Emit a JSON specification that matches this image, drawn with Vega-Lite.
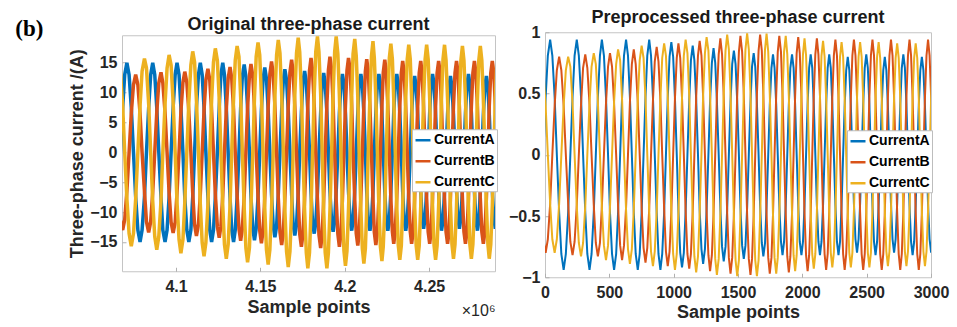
{
"$schema": "https://vega.github.io/schema/vega-lite/v6.json",
"padding": {"left": 15, "top": 8, "right": 5, "bottom": 2},
"title": {"text": "(b)", "anchor": "start", "frame": "bounds", "orient": "top", "offset": -32, "dx": -53, "font": "Liberation Serif", "fontSize": 23, "fontWeight": "bold", "color": "#000000"},
"config": {
  "font": "Liberation Sans",
  "view": {"stroke": "#c4c4c4", "strokeWidth": 1},
  "axis": {"grid": false, "domain": false, "labelFlush": false, "tickColor": "#b0b0b0", "tickSize": -4, "labelFontSize": 16, "labelFontWeight": "bold", "labelColor": "#262626", "titleFontSize": 18, "titleFontWeight": "bold", "titleColor": "#262626"},
  "title": {"fontSize": 18, "fontWeight": "bold", "color": "#1a1a1a"},
  "legend": {"symbolType": "stroke", "symbolStrokeWidth": 2.5, "symbolSize": 225, "labelFontSize": 14, "labelFontWeight": "bold", "labelColor": "#000000", "fillColor": "#ffffff", "strokeColor": "#bdbdbd", "padding": 2, "rowPadding": 5, "labelOffset": 2}
},
"datasets": {
"orig": [
{"t":4.067,"A":0,"B":-11.3,"C":13.6},{"t":4.0684,"A":7.5,"B":-13,"C":7.8},{"t":4.0696,"A":13,"B":-11.3,"C":0},{"t":4.0709,"A":15,"B":-6.5,"C":-7.8},{"t":4.0722,"A":13,"B":0,"C":-13.6},{"t":4.0735,"A":7.5,"B":6.5,"C":-15.7},{"t":4.0748,"A":0,"B":11.3,"C":-13.6},{"t":4.0761,"A":-7.5,"B":13,"C":-7.8},{"t":4.0774,"A":-13,"B":11.3,"C":0},{"t":4.0787,"A":-15,"B":6.5,"C":7.8},{"t":4.0799,"A":-13,"B":0,"C":13.6},{"t":4.0813,"A":-7.5,"B":-6.5,"C":15.7},
{"t":4.0825,"A":0,"B":-11.6,"C":14.1},{"t":4.0838,"A":7.5,"B":-13.4,"C":8.1},{"t":4.085,"A":13,"B":-11.6,"C":0},{"t":4.0862,"A":15,"B":-6.7,"C":-8.1},{"t":4.0874,"A":13,"B":0,"C":-14.1},{"t":4.0886,"A":7.5,"B":6.7,"C":-16.3},{"t":4.0898,"A":0,"B":11.6,"C":-14.1},{"t":4.0911,"A":-7.5,"B":13.4,"C":-8.1},{"t":4.0922,"A":-13,"B":11.6,"C":0},{"t":4.0935,"A":-15,"B":6.7,"C":8.1},{"t":4.0947,"A":-13,"B":0,"C":14.1},{"t":4.0959,"A":-7.5,"B":-6.7,"C":16.3},
{"t":4.0971,"A":0,"B":-11.7,"C":14.6},{"t":4.0983,"A":7.5,"B":-13.5,"C":8.4},{"t":4.0995,"A":13,"B":-11.7,"C":0},{"t":4.1006,"A":15,"B":-6.8,"C":-8.4},{"t":4.1018,"A":13,"B":0,"C":-14.6},{"t":4.1029,"A":7.5,"B":6.8,"C":-16.9},{"t":4.1041,"A":0,"B":11.7,"C":-14.6},{"t":4.1052,"A":-7.5,"B":13.5,"C":-8.4},{"t":4.1064,"A":-13,"B":11.7,"C":0},{"t":4.1076,"A":-15,"B":6.8,"C":8.4},{"t":4.1088,"A":-13,"B":0,"C":14.6},{"t":4.1099,"A":-7.5,"B":-6.8,"C":16.9},
{"t":4.111,"A":0,"B":-12.1,"C":15.1},{"t":4.1121,"A":7.5,"B":-14,"C":8.7},{"t":4.1133,"A":13,"B":-12.1,"C":0},{"t":4.1144,"A":15,"B":-7,"C":-8.7},{"t":4.1155,"A":13,"B":0,"C":-15.1},{"t":4.1166,"A":7.5,"B":7,"C":-17.4},{"t":4.1177,"A":0,"B":12.1,"C":-15.1},{"t":4.1189,"A":-7.5,"B":14,"C":-8.7},{"t":4.12,"A":-13,"B":12.1,"C":0},{"t":4.1211,"A":-15,"B":7,"C":8.7},{"t":4.1222,"A":-13,"B":0,"C":15.1},{"t":4.1233,"A":-7.5,"B":-7,"C":17.4},
{"t":4.1245,"A":0,"B":-12.4,"C":15.4},{"t":4.1256,"A":7.5,"B":-14.3,"C":8.9},{"t":4.1266,"A":13,"B":-12.4,"C":0},{"t":4.1277,"A":15,"B":-7.2,"C":-8.9},{"t":4.1287,"A":13,"B":0,"C":-15.4},{"t":4.1298,"A":7.5,"B":7.2,"C":-17.8},{"t":4.1309,"A":0,"B":12.4,"C":-15.4},{"t":4.132,"A":-7.5,"B":14.3,"C":-8.9},{"t":4.133,"A":-13,"B":12.4,"C":0},{"t":4.1341,"A":-15,"B":7.2,"C":8.9},{"t":4.1351,"A":-13,"B":0,"C":15.4},{"t":4.1362,"A":-7.5,"B":-7.2,"C":17.8},
{"t":4.1373,"A":0,"B":-12.8,"C":16},{"t":4.1383,"A":7.4,"B":-14.8,"C":9.2},{"t":4.1393,"A":12.7,"B":-12.8,"C":0},{"t":4.1404,"A":14.7,"B":-7.4,"C":-9.2},{"t":4.1414,"A":12.7,"B":0,"C":-16},{"t":4.1424,"A":7.4,"B":7.4,"C":-18.4},{"t":4.1435,"A":0,"B":12.8,"C":-16},{"t":4.1444,"A":-7.4,"B":14.8,"C":-9.2},{"t":4.1455,"A":-12.7,"B":12.8,"C":0},{"t":4.1465,"A":-14.7,"B":7.4,"C":9.2},{"t":4.1475,"A":-12.7,"B":0,"C":16},{"t":4.1486,"A":-7.4,"B":-7.4,"C":18.4},
{"t":4.1496,"A":0,"B":-13.1,"C":16.3},{"t":4.1506,"A":7.1,"B":-15.2,"C":9.4},{"t":4.1516,"A":12.3,"B":-13.1,"C":0},{"t":4.1526,"A":14.2,"B":-7.6,"C":-9.4},{"t":4.1536,"A":12.3,"B":0,"C":-16.3},{"t":4.1546,"A":7.1,"B":7.6,"C":-18.8},{"t":4.1556,"A":0,"B":13.1,"C":-16.3},{"t":4.1566,"A":-7.1,"B":15.2,"C":-9.4},{"t":4.1576,"A":-12.3,"B":13.1,"C":0},{"t":4.1586,"A":-14.2,"B":7.6,"C":9.4},{"t":4.1596,"A":-12.3,"B":0,"C":16.3},{"t":4.1606,"A":-7.1,"B":-7.6,"C":18.8},
{"t":4.1616,"A":0,"B":-13.4,"C":16.6},{"t":4.1626,"A":7,"B":-15.5,"C":9.6},{"t":4.1636,"A":12.1,"B":-13.4,"C":0},{"t":4.1645,"A":13.9,"B":-7.7,"C":-9.6},{"t":4.1655,"A":12.1,"B":0,"C":-16.6},{"t":4.1665,"A":7,"B":7.7,"C":-19.2},{"t":4.1675,"A":0,"B":13.4,"C":-16.6},{"t":4.1685,"A":-7,"B":15.5,"C":-9.6},{"t":4.1694,"A":-12.1,"B":13.4,"C":0},{"t":4.1704,"A":-13.9,"B":7.7,"C":9.6},{"t":4.1714,"A":-12.1,"B":0,"C":16.6},{"t":4.1724,"A":-7,"B":-7.7,"C":19.2},
{"t":4.1733,"A":0,"B":-13.7,"C":16.8},{"t":4.1743,"A":6.8,"B":-15.8,"C":9.7},{"t":4.1752,"A":11.8,"B":-13.7,"C":0},{"t":4.1762,"A":13.6,"B":-7.9,"C":-9.7},{"t":4.1772,"A":11.8,"B":0,"C":-16.8},{"t":4.1781,"A":6.8,"B":7.9,"C":-19.4},{"t":4.1791,"A":0,"B":13.7,"C":-16.8},{"t":4.18,"A":-6.8,"B":15.8,"C":-9.7},{"t":4.1809,"A":-11.8,"B":13.7,"C":0},{"t":4.1819,"A":-13.6,"B":7.9,"C":9.7},{"t":4.1828,"A":-11.8,"B":0,"C":16.8},{"t":4.1838,"A":-6.8,"B":-7.9,"C":19.4},
{"t":4.1847,"A":0,"B":-13.8,"C":16.8},{"t":4.1857,"A":6.6,"B":-16,"C":9.7},{"t":4.1866,"A":11.5,"B":-13.8,"C":0},{"t":4.1875,"A":13.3,"B":-8,"C":-9.7},{"t":4.1884,"A":11.5,"B":0,"C":-16.8},{"t":4.1894,"A":6.6,"B":8,"C":-19.4},{"t":4.1903,"A":0,"B":13.8,"C":-16.8},{"t":4.1912,"A":-6.6,"B":16,"C":-9.7},{"t":4.1922,"A":-11.5,"B":13.8,"C":0},{"t":4.1931,"A":-13.3,"B":8,"C":9.7},{"t":4.194,"A":-11.5,"B":0,"C":16.8},{"t":4.1949,"A":-6.6,"B":-8,"C":19.4},
{"t":4.1959,"A":0,"B":-13.7,"C":16.5},{"t":4.1968,"A":6.6,"B":-15.8,"C":9.5},{"t":4.1977,"A":11.4,"B":-13.7,"C":0},{"t":4.1986,"A":13.1,"B":-7.9,"C":-9.5},{"t":4.1995,"A":11.4,"B":0,"C":-16.5},{"t":4.2004,"A":6.6,"B":7.9,"C":-19},{"t":4.2013,"A":0,"B":13.7,"C":-16.5},{"t":4.2022,"A":-6.6,"B":15.8,"C":-9.5},{"t":4.2032,"A":-11.4,"B":13.7,"C":0},{"t":4.2041,"A":-13.1,"B":7.9,"C":9.5},{"t":4.2049,"A":-11.4,"B":0,"C":16.5},{"t":4.2059,"A":-6.6,"B":-7.9,"C":19},
{"t":4.2068,"A":0,"B":-13.6,"C":16.1},{"t":4.2077,"A":6.6,"B":-15.6,"C":9.3},{"t":4.2085,"A":11.4,"B":-13.6,"C":0},{"t":4.2095,"A":13.1,"B":-7.8,"C":-9.3},{"t":4.2104,"A":11.4,"B":0,"C":-16.1},{"t":4.2113,"A":6.6,"B":7.8,"C":-18.6},{"t":4.2122,"A":0,"B":13.6,"C":-16.1},{"t":4.213,"A":-6.6,"B":15.6,"C":-9.3},{"t":4.2139,"A":-11.4,"B":13.6,"C":0},{"t":4.2149,"A":-13.1,"B":7.8,"C":9.3},{"t":4.2158,"A":-11.4,"B":0,"C":16.1},{"t":4.2167,"A":-6.6,"B":-7.8,"C":18.6},
{"t":4.2175,"A":0,"B":-13.4,"C":15.8},{"t":4.2184,"A":6.6,"B":-15.5,"C":9.1},{"t":4.2193,"A":11.4,"B":-13.4,"C":0},{"t":4.2202,"A":13.1,"B":-7.7,"C":-9.1},{"t":4.2211,"A":11.4,"B":0,"C":-15.8},{"t":4.222,"A":6.6,"B":7.7,"C":-18.2},{"t":4.2228,"A":0,"B":13.4,"C":-15.8},{"t":4.2237,"A":-6.6,"B":15.5,"C":-9.1},{"t":4.2246,"A":-11.4,"B":13.4,"C":0},{"t":4.2255,"A":-13.1,"B":7.7,"C":9.1},{"t":4.2264,"A":-11.4,"B":0,"C":15.8},{"t":4.2273,"A":-6.6,"B":-7.7,"C":18.2},
{"t":4.2282,"A":0,"B":-13.3,"C":15.6},{"t":4.229,"A":6.6,"B":-15.3,"C":9},{"t":4.2299,"A":11.4,"B":-13.3,"C":0},{"t":4.2308,"A":13.1,"B":-7.7,"C":-9},{"t":4.2317,"A":11.4,"B":0,"C":-15.6},{"t":4.2326,"A":6.6,"B":7.7,"C":-18},{"t":4.2335,"A":0,"B":13.3,"C":-15.6},{"t":4.2343,"A":-6.6,"B":15.3,"C":-9},{"t":4.2352,"A":-11.4,"B":13.3,"C":0},{"t":4.2361,"A":-13.1,"B":7.7,"C":9},{"t":4.237,"A":-11.4,"B":0,"C":15.6},{"t":4.2379,"A":-6.6,"B":-7.7,"C":18},
{"t":4.2388,"A":0,"B":-13.3,"C":15.6},{"t":4.2396,"A":6.4,"B":-15.3,"C":9},{"t":4.2405,"A":11,"B":-13.3,"C":0},{"t":4.2414,"A":12.8,"B":-7.7,"C":-9},{"t":4.2423,"A":11,"B":0,"C":-15.6},{"t":4.2432,"A":6.4,"B":7.7,"C":-18},{"t":4.2441,"A":0,"B":13.3,"C":-15.6},{"t":4.245,"A":-6.4,"B":15.3,"C":-9},{"t":4.2458,"A":-11,"B":13.3,"C":0},{"t":4.2467,"A":-12.8,"B":7.7,"C":9},{"t":4.2476,"A":-11,"B":0,"C":15.6},{"t":4.2485,"A":-6.4,"B":-7.7,"C":18},
{"t":4.2494,"A":0,"B":-13.3,"C":15.6},{"t":4.2503,"A":6.6,"B":-15.3,"C":9},{"t":4.2511,"A":11.4,"B":-13.3,"C":0},{"t":4.252,"A":13.1,"B":-7.7,"C":-9},{"t":4.2529,"A":11.4,"B":0,"C":-15.6},{"t":4.2538,"A":6.6,"B":7.7,"C":-18},{"t":4.2547,"A":0,"B":13.3,"C":-15.6},{"t":4.2556,"A":-6.6,"B":15.3,"C":-9},{"t":4.2565,"A":-11.4,"B":13.3,"C":0},{"t":4.2573,"A":-13.1,"B":7.7,"C":9},{"t":4.2582,"A":-11.4,"B":0,"C":15.6},{"t":4.2591,"A":-6.6,"B":-7.7,"C":18},
{"t":4.26,"A":0,"B":-13.3,"C":15.4},{"t":4.2609,"A":6.4,"B":-15.3,"C":8.9},{"t":4.2618,"A":11,"B":-13.3,"C":0},{"t":4.2626,"A":12.8,"B":-7.7,"C":-8.9},{"t":4.2635,"A":11,"B":0,"C":-15.4},{"t":4.2644,"A":6.4,"B":7.7,"C":-17.8},{"t":4.2653,"A":0,"B":13.3,"C":-15.4},{"t":4.2662,"A":-6.4,"B":15.3,"C":-8.9},{"t":4.2671,"A":-11,"B":13.3,"C":0},{"t":4.2679,"A":-12.8,"B":7.7,"C":8.9},{"t":4.2688,"A":-11,"B":0,"C":15.4},{"t":4.2697,"A":-6.4,"B":-7.7,"C":17.8},
{"t":4.2706,"A":0,"B":-13.3,"C":15.4},{"t":4.2715,"A":6.6,"B":-15.3,"C":8.9},{"t":4.2724,"A":11.4,"B":-13.3,"C":0},{"t":4.2733,"A":13.1,"B":-7.7,"C":-8.9},{"t":4.2741,"A":11.4,"B":0,"C":-15.4},{"t":4.275,"A":6.6,"B":7.7,"C":-17.8},{"t":4.2759,"A":0,"B":13.3,"C":-15.4},{"t":4.2768,"A":-6.6,"B":15.3,"C":-8.9},{"t":4.2777,"A":-11.4,"B":13.3,"C":0},{"t":4.2786,"A":-13.1,"B":7.7,"C":8.9},{"t":4.2794,"A":-11.4,"B":0,"C":15.4},{"t":4.2803,"A":-6.6,"B":-7.7,"C":17.8},
{"t":4.2812,"A":0,"B":-13.3,"C":15.4},{"t":4.2821,"A":6.4,"B":-15.3,"C":8.9},{"t":4.283,"A":11,"B":-13.3,"C":0},{"t":4.2839,"A":12.8,"B":-7.7,"C":-8.9},{"t":4.2848,"A":11,"B":0,"C":-15.4},{"t":4.2856,"A":6.4,"B":7.7,"C":-17.8},{"t":4.2865,"A":0,"B":13.3,"C":-15.4},{"t":4.2874,"A":-6.4,"B":15.3,"C":-8.9},{"t":4.2883,"A":-11,"B":13.3,"C":0},{"t":4.2892,"A":-12.8,"B":7.7,"C":8.9},{"t":4.2901,"A":-11,"B":0,"C":15.4}
],
"prep": [
{"n":-13,"A":0,"B":-0.69,"C":0.69},{"n":5,"A":0.47,"B":-0.8,"C":0.4},{"n":22,"A":0.81,"B":-0.69,"C":0},{"n":40,"A":0.94,"B":-0.4,"C":-0.4},{"n":57,"A":0.81,"B":0,"C":-0.69},{"n":75,"A":0.47,"B":0.4,"C":-0.8},{"n":92,"A":0,"B":0.69,"C":-0.69},{"n":110,"A":-0.47,"B":0.8,"C":-0.4},{"n":127,"A":-0.81,"B":0.69,"C":0},{"n":145,"A":-0.94,"B":0.4,"C":0.4},{"n":162,"A":-0.81,"B":0,"C":0.69},{"n":180,"A":-0.47,"B":-0.4,"C":0.8},
{"n":197,"A":0,"B":-0.71,"C":0.72},{"n":214,"A":0.47,"B":-0.82,"C":0.42},{"n":230,"A":0.81,"B":-0.71,"C":0},{"n":247,"A":0.94,"B":-0.41,"C":-0.42},{"n":263,"A":0.81,"B":0,"C":-0.72},{"n":280,"A":0.47,"B":0.41,"C":-0.83},{"n":296,"A":0,"B":0.71,"C":-0.72},{"n":313,"A":-0.47,"B":0.82,"C":-0.42},{"n":329,"A":-0.81,"B":0.71,"C":0},{"n":346,"A":-0.94,"B":0.41,"C":0.42},{"n":362,"A":-0.81,"B":0,"C":0.72},{"n":379,"A":-0.47,"B":-0.41,"C":0.83},
{"n":395,"A":0,"B":-0.72,"C":0.74},{"n":411,"A":0.47,"B":-0.83,"C":0.43},{"n":427,"A":0.81,"B":-0.72,"C":0},{"n":442,"A":0.94,"B":-0.42,"C":-0.43},{"n":458,"A":0.81,"B":0,"C":-0.74},{"n":474,"A":0.47,"B":0.42,"C":-0.86},{"n":490,"A":0,"B":0.72,"C":-0.74},{"n":505,"A":-0.47,"B":0.83,"C":-0.43},{"n":521,"A":-0.81,"B":0.72,"C":0},{"n":537,"A":-0.94,"B":0.42,"C":0.43},{"n":553,"A":-0.81,"B":0,"C":0.74},{"n":568,"A":-0.47,"B":-0.42,"C":0.86},
{"n":584,"A":0,"B":-0.74,"C":0.77},{"n":599,"A":0.47,"B":-0.86,"C":0.45},{"n":614,"A":0.81,"B":-0.74,"C":0},{"n":630,"A":0.94,"B":-0.43,"C":-0.45},{"n":645,"A":0.81,"B":0,"C":-0.77},{"n":660,"A":0.47,"B":0.43,"C":-0.89},{"n":675,"A":0,"B":0.74,"C":-0.77},{"n":690,"A":-0.47,"B":0.86,"C":-0.45},{"n":705,"A":-0.81,"B":0.74,"C":0},{"n":721,"A":-0.94,"B":0.43,"C":0.45},{"n":736,"A":-0.81,"B":0,"C":0.77},{"n":751,"A":-0.47,"B":-0.43,"C":0.89},
{"n":766,"A":0,"B":-0.76,"C":0.79},{"n":781,"A":0.47,"B":-0.88,"C":0.46},{"n":795,"A":0.81,"B":-0.76,"C":0},{"n":810,"A":0.94,"B":-0.44,"C":-0.46},{"n":824,"A":0.81,"B":0,"C":-0.79},{"n":839,"A":0.47,"B":0.44,"C":-0.91},{"n":853,"A":0,"B":0.76,"C":-0.79},{"n":868,"A":-0.47,"B":0.88,"C":-0.46},{"n":882,"A":-0.81,"B":0.76,"C":0},{"n":897,"A":-0.94,"B":0.44,"C":0.46},{"n":911,"A":-0.81,"B":0,"C":0.79},{"n":926,"A":-0.47,"B":-0.44,"C":0.91},
{"n":940,"A":0,"B":-0.79,"C":0.81},{"n":954,"A":0.46,"B":-0.91,"C":0.47},{"n":968,"A":0.8,"B":-0.79,"C":0},{"n":982,"A":0.92,"B":-0.46,"C":-0.47},{"n":996,"A":0.8,"B":0,"C":-0.81},{"n":1010,"A":0.46,"B":0.46,"C":-0.94},{"n":1024,"A":0,"B":0.79,"C":-0.81},{"n":1037,"A":-0.46,"B":0.91,"C":-0.47},{"n":1051,"A":-0.8,"B":0.79,"C":0},{"n":1065,"A":-0.92,"B":0.46,"C":0.47},{"n":1079,"A":-0.8,"B":0,"C":0.81},{"n":1093,"A":-0.46,"B":-0.46,"C":0.94},
{"n":1107,"A":0,"B":-0.81,"C":0.83},{"n":1121,"A":0.45,"B":-0.93,"C":0.48},{"n":1134,"A":0.77,"B":-0.81,"C":0},{"n":1148,"A":0.89,"B":-0.47,"C":-0.48},{"n":1161,"A":0.77,"B":0,"C":-0.83},{"n":1175,"A":0.45,"B":0.47,"C":-0.96},{"n":1189,"A":0,"B":0.81,"C":-0.83},{"n":1202,"A":-0.45,"B":0.93,"C":-0.48},{"n":1216,"A":-0.77,"B":0.81,"C":0},{"n":1229,"A":-0.89,"B":0.47,"C":0.48},{"n":1243,"A":-0.77,"B":0,"C":0.83},{"n":1256,"A":-0.45,"B":-0.47,"C":0.96},
{"n":1270,"A":0,"B":-0.82,"C":0.85},{"n":1283,"A":0.44,"B":-0.95,"C":0.49},{"n":1297,"A":0.75,"B":-0.82,"C":0},{"n":1310,"A":0.87,"B":-0.48,"C":-0.49},{"n":1323,"A":0.75,"B":0,"C":-0.85},{"n":1336,"A":0.44,"B":0.48,"C":-0.98},{"n":1350,"A":0,"B":0.82,"C":-0.85},{"n":1363,"A":-0.44,"B":0.95,"C":-0.49},{"n":1376,"A":-0.75,"B":0.82,"C":0},{"n":1389,"A":-0.87,"B":0.48,"C":0.49},{"n":1403,"A":-0.75,"B":0,"C":0.85},{"n":1416,"A":-0.44,"B":-0.48,"C":0.98},
{"n":1429,"A":0,"B":-0.84,"C":0.86},{"n":1442,"A":0.43,"B":-0.97,"C":0.5},{"n":1455,"A":0.74,"B":-0.84,"C":0},{"n":1468,"A":0.85,"B":-0.49,"C":-0.5},{"n":1481,"A":0.74,"B":0,"C":-0.86},{"n":1494,"A":0.43,"B":0.49,"C":-0.99},{"n":1507,"A":0,"B":0.84,"C":-0.86},{"n":1519,"A":-0.43,"B":0.97,"C":-0.5},{"n":1532,"A":-0.74,"B":0.84,"C":0},{"n":1545,"A":-0.85,"B":0.49,"C":0.5},{"n":1558,"A":-0.74,"B":0,"C":0.86},{"n":1571,"A":-0.43,"B":-0.49,"C":0.99},
{"n":1584,"A":0,"B":-0.85,"C":0.86},{"n":1597,"A":0.42,"B":-0.98,"C":0.5},{"n":1609,"A":0.72,"B":-0.85,"C":0},{"n":1622,"A":0.83,"B":-0.49,"C":-0.5},{"n":1634,"A":0.72,"B":0,"C":-0.86},{"n":1647,"A":0.42,"B":0.49,"C":-0.99},{"n":1660,"A":0,"B":0.85,"C":-0.86},{"n":1672,"A":-0.42,"B":0.98,"C":-0.5},{"n":1685,"A":-0.72,"B":0.85,"C":0},{"n":1697,"A":-0.83,"B":0.49,"C":0.5},{"n":1710,"A":-0.72,"B":0,"C":0.86},{"n":1722,"A":-0.42,"B":-0.49,"C":0.99},
{"n":1735,"A":0,"B":-0.84,"C":0.84},{"n":1747,"A":0.41,"B":-0.97,"C":0.49},{"n":1760,"A":0.71,"B":-0.84,"C":0},{"n":1772,"A":0.82,"B":-0.49,"C":-0.49},{"n":1784,"A":0.71,"B":0,"C":-0.84},{"n":1797,"A":0.41,"B":0.49,"C":-0.97},{"n":1809,"A":0,"B":0.84,"C":-0.84},{"n":1821,"A":-0.41,"B":0.97,"C":-0.49},{"n":1834,"A":-0.71,"B":0.84,"C":0},{"n":1846,"A":-0.82,"B":0.49,"C":0.49},{"n":1858,"A":-0.71,"B":0,"C":0.84},{"n":1871,"A":-0.41,"B":-0.49,"C":0.97},
{"n":1883,"A":0,"B":-0.83,"C":0.82},{"n":1895,"A":0.41,"B":-0.96,"C":0.48},{"n":1907,"A":0.71,"B":-0.83,"C":0},{"n":1920,"A":0.82,"B":-0.48,"C":-0.48},{"n":1932,"A":0.71,"B":0,"C":-0.82},{"n":1944,"A":0.41,"B":0.48,"C":-0.95},{"n":1956,"A":0,"B":0.83,"C":-0.82},{"n":1968,"A":-0.41,"B":0.96,"C":-0.48},{"n":1980,"A":-0.71,"B":0.83,"C":0},{"n":1993,"A":-0.82,"B":0.48,"C":0.48},{"n":2005,"A":-0.71,"B":0,"C":0.82},{"n":2017,"A":-0.41,"B":-0.48,"C":0.95},
{"n":2029,"A":0,"B":-0.82,"C":0.81},{"n":2041,"A":0.41,"B":-0.95,"C":0.47},{"n":2053,"A":0.71,"B":-0.82,"C":0},{"n":2065,"A":0.82,"B":-0.48,"C":-0.47},{"n":2077,"A":0.71,"B":0,"C":-0.81},{"n":2089,"A":0.41,"B":0.48,"C":-0.93},{"n":2101,"A":0,"B":0.82,"C":-0.81},{"n":2113,"A":-0.41,"B":0.95,"C":-0.47},{"n":2125,"A":-0.71,"B":0.82,"C":0},{"n":2137,"A":-0.82,"B":0.48,"C":0.47},{"n":2149,"A":-0.71,"B":0,"C":0.81},{"n":2161,"A":-0.41,"B":-0.48,"C":0.93},
{"n":2173,"A":0,"B":-0.81,"C":0.8},{"n":2185,"A":0.41,"B":-0.94,"C":0.46},{"n":2197,"A":0.71,"B":-0.81,"C":0},{"n":2209,"A":0.82,"B":-0.47,"C":-0.46},{"n":2221,"A":0.71,"B":0,"C":-0.8},{"n":2233,"A":0.41,"B":0.47,"C":-0.92},{"n":2245,"A":0,"B":0.81,"C":-0.8},{"n":2257,"A":-0.41,"B":0.94,"C":-0.46},{"n":2269,"A":-0.71,"B":0.81,"C":0},{"n":2281,"A":-0.82,"B":0.47,"C":0.46},{"n":2293,"A":-0.71,"B":0,"C":0.8},{"n":2305,"A":-0.41,"B":-0.47,"C":0.92},
{"n":2317,"A":0,"B":-0.81,"C":0.8},{"n":2329,"A":0.4,"B":-0.94,"C":0.46},{"n":2341,"A":0.69,"B":-0.81,"C":0},{"n":2353,"A":0.8,"B":-0.47,"C":-0.46},{"n":2365,"A":0.69,"B":0,"C":-0.8},{"n":2377,"A":0.4,"B":0.47,"C":-0.92},{"n":2389,"A":0,"B":0.81,"C":-0.8},{"n":2401,"A":-0.4,"B":0.94,"C":-0.46},{"n":2413,"A":-0.69,"B":0.81,"C":0},{"n":2425,"A":-0.8,"B":0.47,"C":0.46},{"n":2437,"A":-0.69,"B":0,"C":0.8},{"n":2449,"A":-0.4,"B":-0.47,"C":0.92},
{"n":2461,"A":0,"B":-0.81,"C":0.8},{"n":2473,"A":0.41,"B":-0.94,"C":0.46},{"n":2485,"A":0.71,"B":-0.81,"C":0},{"n":2497,"A":0.82,"B":-0.47,"C":-0.46},{"n":2509,"A":0.71,"B":0,"C":-0.8},{"n":2521,"A":0.41,"B":0.47,"C":-0.92},{"n":2533,"A":0,"B":0.81,"C":-0.8},{"n":2545,"A":-0.41,"B":0.94,"C":-0.46},{"n":2557,"A":-0.71,"B":0.81,"C":0},{"n":2569,"A":-0.82,"B":0.47,"C":0.46},{"n":2581,"A":-0.71,"B":0,"C":0.8},{"n":2593,"A":-0.41,"B":-0.47,"C":0.92},
{"n":2605,"A":0,"B":-0.81,"C":0.79},{"n":2617,"A":0.4,"B":-0.94,"C":0.46},{"n":2629,"A":0.69,"B":-0.81,"C":0},{"n":2641,"A":0.8,"B":-0.47,"C":-0.46},{"n":2653,"A":0.69,"B":0,"C":-0.79},{"n":2665,"A":0.4,"B":0.47,"C":-0.91},{"n":2677,"A":0,"B":0.81,"C":-0.79},{"n":2689,"A":-0.4,"B":0.94,"C":-0.46},{"n":2701,"A":-0.69,"B":0.81,"C":0},{"n":2713,"A":-0.8,"B":0.47,"C":0.46},{"n":2725,"A":-0.69,"B":0,"C":0.79},{"n":2737,"A":-0.4,"B":-0.47,"C":0.91},
{"n":2749,"A":0,"B":-0.81,"C":0.79},{"n":2761,"A":0.41,"B":-0.94,"C":0.46},{"n":2773,"A":0.71,"B":-0.81,"C":0},{"n":2785,"A":0.82,"B":-0.47,"C":-0.46},{"n":2797,"A":0.71,"B":0,"C":-0.79},{"n":2809,"A":0.41,"B":0.47,"C":-0.91},{"n":2821,"A":0,"B":0.81,"C":-0.79},{"n":2833,"A":-0.41,"B":0.94,"C":-0.46},{"n":2845,"A":-0.71,"B":0.81,"C":0},{"n":2857,"A":-0.82,"B":0.47,"C":0.46},{"n":2869,"A":-0.71,"B":0,"C":0.79},{"n":2881,"A":-0.41,"B":-0.47,"C":0.91},
{"n":2893,"A":0,"B":-0.81,"C":0.79},{"n":2905,"A":0.4,"B":-0.94,"C":0.46},{"n":2917,"A":0.69,"B":-0.81,"C":0},{"n":2929,"A":0.8,"B":-0.47,"C":-0.46},{"n":2941,"A":0.69,"B":0,"C":-0.79},{"n":2953,"A":0.4,"B":0.47,"C":-0.91},{"n":2965,"A":0,"B":0.81,"C":-0.79},{"n":2977,"A":-0.4,"B":0.94,"C":-0.46},{"n":2989,"A":-0.69,"B":0.81,"C":0},{"n":3001,"A":-0.8,"B":0.47,"C":0.46},{"n":3013,"A":-0.69,"B":0,"C":0.79}
]
},
"spacing": 9,
"center": true,
"resolve": {"scale": {"color": "independent"}, "legend": {"color": "independent"}},
"hconcat": [
{
  "width": 373, "height": 236,
  "title": {"text": "Original three-phase current", "offset": 1},
  "data": {"name": "orig"},
  "transform": [{"fold": ["A", "B", "C"], "as": ["s", "v"]}],
  "encoding": {
    "y": {"field": "v", "type": "quantitative", "scale": {"domain": [-19.9, 19.6], "nice": false, "zero": false}, "axis": {"values": [-15, -10, -5, 0, 5, 10, 15], "title": "Three-phase current /(A)", "labelPadding": 9, "titlePadding": 3}}
  },
  "layer": [
    {
      "mark": {"type": "line", "strokeWidth": 3.5, "clip": true},
      "encoding": {
        "x": {"field": "t", "type": "quantitative", "scale": {"domain": [4.068, 4.289], "nice": false, "zero": false}, "axis": {"values": [4.1, 4.15, 4.2, 4.25], "format": "~g", "title": "Sample points", "labelPadding": 11, "titlePadding": 4}},
        "color": {"field": "s", "type": "nominal", "scale": {"domain": ["A", "B", "C"], "range": ["#0072BD", "#D95319", "#EDB120"]}, "legend": {"title": null, "orient": "none", "legendX": 290, "legendY": 94, "labelExpr": "'Current' + datum.label"}}
      }
    },
    {
      "mark": {"type": "line", "opacity": 0, "clip": true},
      "encoding": {
        "x": {"field": "t", "type": "quantitative", "axis": {"orient": "bottom", "title": "×10⁶", "labels": false, "ticks": false, "domain": false, "titleAnchor": "end", "titleFontSize": 16, "titleFontWeight": "normal", "titleColor": "#262626", "titlePadding": 31}}
      }
    }
  ],
  "resolve": {"axis": {"x": "independent"}}
},
{
  "width": 386, "height": 245,
  "title": {"text": "Preprocessed three-phase current", "offset": -3},
  "data": {"name": "prep"},
  "transform": [{"fold": ["A", "B", "C"], "as": ["s", "v"]}],
  "mark": {"type": "line", "strokeWidth": 2, "clip": true},
  "encoding": {
    "x": {"field": "n", "type": "quantitative", "scale": {"domain": [0, 3000], "nice": false}, "axis": {"values": [0, 500, 1000, 1500, 2000, 2500, 3000], "format": "d", "title": "Sample points", "labelPadding": 11, "titlePadding": 3}},
    "y": {"field": "v", "type": "quantitative", "scale": {"domain": [-1, 1], "nice": false}, "axis": {"values": [-1, -0.5, 0, 0.5, 1], "format": "~g", "title": null, "labelPadding": 9}},
    "color": {"field": "s", "type": "nominal", "scale": {"domain": ["A", "B", "C"], "range": ["#0072BD", "#D95319", "#EDB120"]}, "legend": {"title": null, "orient": "none", "legendX": 302, "legendY": 98, "labelExpr": "'Current' + datum.label"}}
  }
}
]
}
